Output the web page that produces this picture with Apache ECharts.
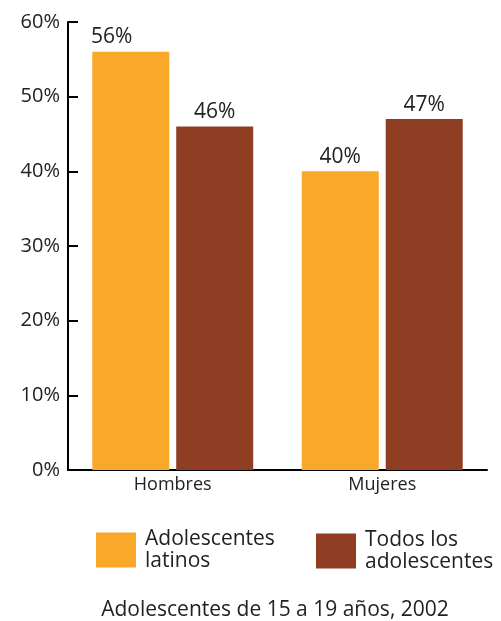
<!DOCTYPE html>
<html>
<head>
<meta charset="utf-8">
<script src="https://cdn.jsdelivr.net/npm/echarts@6/dist/echarts.min.js"></script>
<style>html,body{margin:0;padding:0;background:#fff;}#c{width:501px;height:621px;}</style>
</head>
<body>
<div id="c"></div>
<script>
const categories = ['Hombres', 'Mujeres'];
const latinos = [56, 40];
const todos = [46, 47];
const yTicks = [0, 10, 20, 30, 40, 50, 60];
const seriesNames = ['Adolescentes latinos', 'Todos los adolescentes'];
const legendLabels = {'Adolescentes latinos': 'Adolescentes\nlatinos', 'Todos los adolescentes': 'Todos los\nadolescentes'};
const footer = 'Adolescentes de 15 a 19 años, 2002';

const FONT = '"Open Sans", sans-serif';
const chart = echarts.init(document.getElementById('c'), null, {renderer: 'canvas'});
const legendCommon = {
  orient: 'vertical', itemWidth: 40, itemHeight: 35, icon: 'rect',
  textStyle: {fontFamily: FONT, fontSize: 21, color: '#222', lineHeight: 22, padding: [0, 0, 0, 4]},
  formatter: n => legendLabels[n], selectedMode: false
};
const latinosData = latinos.map((v, i) => i === 0 ? {value: v, label: {offset: [-19, 0]}} : v);
chart.setOption({
  animation: false,
  grid: {left: 68, right: 14, top: 22, bottom: 151, containLabel: false},
  title: {text: footer, left: 270, top: 595, textAlign: 'center',
    textStyle: {fontFamily: FONT, fontSize: 21, fontWeight: 'normal', color: '#222'}},
  legend: [
    Object.assign({data: [seriesNames[0]], left: 96, top: 528, padding: 0}, legendCommon),
    Object.assign({data: [seriesNames[1]], left: 316, top: 529, padding: 0}, legendCommon)
  ],
  xAxis: {
    type: 'category', data: categories,
    axisLine: {lineStyle: {color: '#000', width: 2}},
    axisTick: {inside: true, length: 10, alignWithLabel: false, lineStyle: {color: '#000', width: 2}},
    axisLabel: {fontFamily: FONT, fontSize: 18, color: '#222', margin: 6}
  },
  yAxis: {
    type: 'value', min: yTicks[0], max: yTicks[yTicks.length - 1], interval: 10,
    axisLine: {show: true, lineStyle: {color: '#000', width: 2}},
    axisTick: {show: true, inside: true, length: 10, lineStyle: {color: '#000', width: 2}},
    splitLine: {show: false},
    axisLabel: {fontFamily: FONT, fontSize: 20, color: '#222', margin: 8, formatter: '{value}%'}
  },
  series: [
    {name: seriesNames[0], type: 'bar', data: latinosData, barWidth: 77, barGap: '9%',
      itemStyle: {color: '#F9A829'},
      label: {show: true, position: 'top', distance: 4, formatter: '{c}%', fontFamily: FONT, fontSize: 21, color: '#222'}},
    {name: seriesNames[1], type: 'bar', data: todos, barWidth: 77, barGap: '9%',
      itemStyle: {color: '#8F3D23'},
      label: {show: true, position: 'top', distance: 4, formatter: '{c}%', fontFamily: FONT, fontSize: 21, color: '#222'}}
  ]
});
</script>
</body>
</html>
